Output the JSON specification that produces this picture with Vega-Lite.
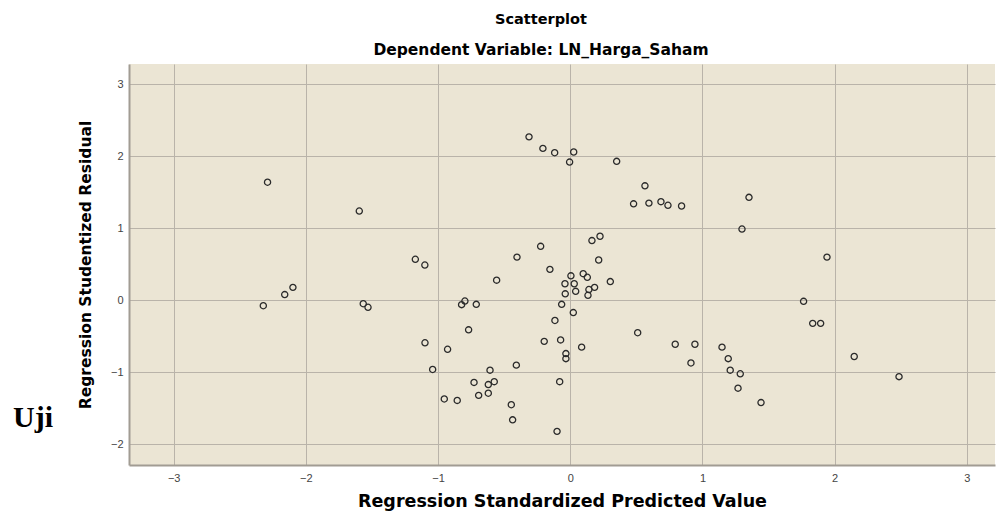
{
  "$schema": "https://vega.github.io/schema/vega-lite/v6.json",
  "autosize": {"type": "none"},
  "padding": {"left": 129, "top": 64, "right": 3, "bottom": 56},
  "width": 866,
  "height": 401,
  "background": "white",
  "title": {
    "text": "Scatterplot",
    "subtitle": "Dependent Variable: LN_Harga_Saham",
    "anchor": "middle",
    "dx": -21,
    "offset": 5,
    "font": "DejaVu Sans",
    "fontSize": 14.5,
    "fontWeight": "bold",
    "color": "#000000",
    "subtitleFont": "DejaVu Sans",
    "subtitleFontSize": 15.5,
    "subtitleFontWeight": "bold",
    "subtitleColor": "#000000",
    "subtitlePadding": 15
  },
  "config": {
    "view": {"fill": "#EBE5D4", "stroke": null},
    "axis": {
      "labelFont": "Liberation Sans",
      "labelFontSize": 11,
      "labelColor": "#444444",
      "titleFont": "DejaVu Sans",
      "titleFontWeight": "bold",
      "titleColor": "#000000",
      "gridColor": "#B9B3A9",
      "gridWidth": 1,
      "gridOpacity": 1,
      "domainColor": "#A19C93",
      "domainWidth": 2,
      "ticks": false,
      "format": "d"
    }
  },
  "layer": [
    {
      "data": {"values": [
        {"pred": -2.29, "resid": 1.64}, {"pred": -1.596, "resid": 1.24}, {"pred": -0.312, "resid": 2.27}, {"pred": -0.207, "resid": 2.11},
        {"pred": -0.118, "resid": 2.05}, {"pred": 0.026, "resid": 2.06}, {"pred": -0.005, "resid": 1.92}, {"pred": 0.351, "resid": 1.93},
        {"pred": 0.565, "resid": 1.59}, {"pred": 0.479, "resid": 1.34}, {"pred": 0.595, "resid": 1.35}, {"pred": 0.686, "resid": 1.37},
        {"pred": 0.739, "resid": 1.32}, {"pred": 0.842, "resid": 1.31}, {"pred": 0.225, "resid": 0.89}, {"pred": 0.164, "resid": 0.83},
        {"pred": -0.224, "resid": 0.75}, {"pred": -0.403, "resid": 0.60}, {"pred": -1.172, "resid": 0.57}, {"pred": -1.10, "resid": 0.49},
        {"pred": 0.215, "resid": 0.56}, {"pred": -0.154, "resid": 0.43}, {"pred": 1.352, "resid": 1.43}, {"pred": 1.299, "resid": 0.99},
        {"pred": 1.942, "resid": 0.60}, {"pred": -2.322, "resid": -0.075}, {"pred": -2.16, "resid": 0.08}, {"pred": -2.098, "resid": 0.18},
        {"pred": -1.566, "resid": -0.047}, {"pred": -1.53, "resid": -0.097}, {"pred": -0.557, "resid": 0.28}, {"pred": 0.005, "resid": 0.34},
        {"pred": 0.098, "resid": 0.37}, {"pred": 0.129, "resid": 0.32}, {"pred": -0.04, "resid": 0.23}, {"pred": 0.03, "resid": 0.23},
        {"pred": 0.303, "resid": 0.26}, {"pred": 0.141, "resid": 0.15}, {"pred": 0.184, "resid": 0.18}, {"pred": 0.041, "resid": 0.125},
        {"pred": -0.038, "resid": 0.09}, {"pred": 0.134, "resid": 0.07}, {"pred": -0.797, "resid": -0.01}, {"pred": -0.822, "resid": -0.06},
        {"pred": -0.711, "resid": -0.056}, {"pred": -0.065, "resid": -0.056}, {"pred": 0.023, "resid": -0.17}, {"pred": -0.116, "resid": -0.28},
        {"pred": -0.769, "resid": -0.41}, {"pred": 0.51, "resid": -0.45}, {"pred": -1.099, "resid": -0.59}, {"pred": -0.928, "resid": -0.68},
        {"pred": -0.197, "resid": -0.57}, {"pred": -0.073, "resid": -0.55}, {"pred": 0.086, "resid": -0.65}, {"pred": -0.033, "resid": -0.74},
        {"pred": -0.033, "resid": -0.81}, {"pred": 0.794, "resid": -0.61}, {"pred": 0.943, "resid": -0.61}, {"pred": 0.913, "resid": -0.87},
        {"pred": -1.041, "resid": -0.96}, {"pred": -0.607, "resid": -0.97}, {"pred": -0.408, "resid": -0.90}, {"pred": -0.728, "resid": -1.14},
        {"pred": -0.575, "resid": -1.13}, {"pred": -0.62, "resid": -1.17}, {"pred": -0.62, "resid": -1.29}, {"pred": -0.693, "resid": -1.32},
        {"pred": -0.08, "resid": -1.13}, {"pred": -0.953, "resid": -1.37}, {"pred": -0.855, "resid": -1.39}, {"pred": -0.446, "resid": -1.45},
        {"pred": -0.436, "resid": -1.66}, {"pred": -0.10, "resid": -1.82}, {"pred": 1.765, "resid": -0.014}, {"pred": 1.834, "resid": -0.32},
        {"pred": 1.894, "resid": -0.32}, {"pred": 1.148, "resid": -0.65}, {"pred": 1.195, "resid": -0.81}, {"pred": 1.21, "resid": -0.97},
        {"pred": 1.286, "resid": -1.02}, {"pred": 1.269, "resid": -1.22}, {"pred": 1.443, "resid": -1.42}, {"pred": 2.148, "resid": -0.78},
        {"pred": 2.487, "resid": -1.06}
      ]},
      "mark": {"type": "point", "shape": "circle", "filled": false, "stroke": "#2a2a2a", "strokeWidth": 1.3, "size": 38, "opacity": 1},
      "encoding": {
        "x": {
          "field": "pred", "type": "quantitative",
          "scale": {"domain": [-3.338, 3.213], "nice": false, "zero": false},
          "axis": {"values": [-3, -2, -1, 0, 1, 2, 3], "title": "Regression Standardized Predicted Value", "titleFontSize": 17.5, "labelPadding": 7, "titlePadding": 9}
        },
        "y": {
          "field": "resid", "type": "quantitative",
          "scale": {"domain": [-2.287, 3.282], "nice": false, "zero": false},
          "axis": {"values": [-2, -1, 0, 1, 2, 3], "title": "Regression Studentized Residual", "titleFontSize": 15.5, "labelPadding": 6, "titlePadding": 17}
        }
      }
    },
    {
      "data": {"values": [{"label": "Uji"}]},
      "mark": {"type": "text", "font": "Liberation Serif", "fontSize": 30, "fontWeight": "bold", "color": "#000000", "align": "center", "baseline": "alphabetic", "clip": false},
      "encoding": {
        "x": {"datum": -4.064, "type": "quantitative"},
        "y": {"datum": -1.76, "type": "quantitative"},
        "text": {"field": "label", "type": "nominal"}
      }
    }
  ]
}
